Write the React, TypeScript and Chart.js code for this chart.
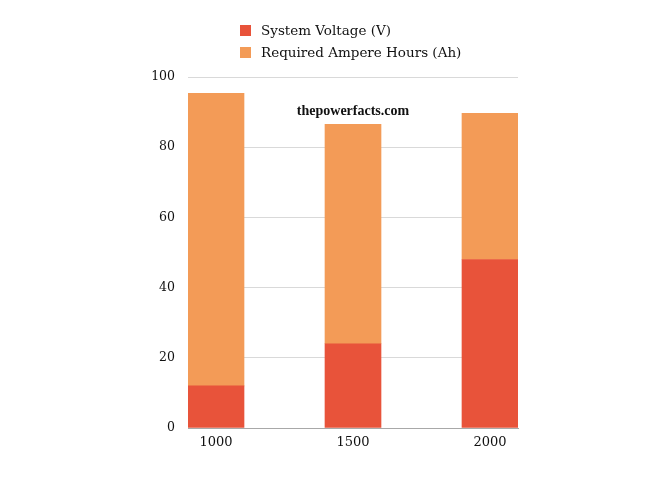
import React, { useEffect, useRef } from 'react';
import { Chart, registerables } from 'chart.js';

Chart.register(...registerables);

const categories = ['1000', '1500', '2000'];
const systemVoltage = [12, 24, 48];
const ampereHours = [83.33, 62.5, 41.67];
const yTicks = [0, 20, 40, 60, 80, 100];

const seriesNames = ['System Voltage (V)', 'Required Ampere Hours (Ah)'];
const seriesColors = ['#E8533A', '#F39B57'];
const watermark = 'thepowerfacts.com';

const SERIF = '"DejaVu Serif", serif';

const watermarkPlugin = {
  id: 'watermark',
  afterDatasetsDraw(chart: any) {
    const { ctx, scales } = chart;
    const x = scales.x.getPixelForValue(1);
    const y = scales.y.getPixelForValue(90.3);
    ctx.save();
    ctx.font = 'bold 14px "Liberation Serif", serif';
    ctx.fillStyle = '#111';
    ctx.textAlign = 'center';
    ctx.textBaseline = 'middle';
    ctx.fillText(watermark, x, y);
    ctx.restore();
  },
};

export default function App() {
  const canvasRef = useRef<HTMLCanvasElement>(null);

  useEffect(() => {
    if (!canvasRef.current) return;
    const half = 0.2044;
    const chart = new Chart(canvasRef.current, {
      type: 'bar',
      data: {
        datasets: [
          {
            label: seriesNames[0],
            data: systemVoltage.map((v, i) => ({ x: i, y: v })),
            backgroundColor: seriesColors[0],
            barThickness: 56,
          },
          {
            label: seriesNames[1],
            data: ampereHours.map((v, i) => ({ x: i, y: v })),
            backgroundColor: seriesColors[1],
            barThickness: 56,
          },
        ],
      },
      options: {
        animation: false,
        responsive: true,
        maintainAspectRatio: false,
        layout: { padding: { left: 0, right: 143, top: 69, bottom: 0 } },
        plugins: {
          legend: { display: false },
          tooltip: { enabled: false },
        },
        scales: {
          x: {
            type: 'linear',
            stacked: true,
            offset: false,
            min: -half,
            max: categories.length - 1 + half,
            afterBuildTicks: (axis: any) => {
              axis.ticks = categories.map((_, i) => ({ value: i }));
            },
            afterFit: (axis: any) => {
              axis.height = 41;
            },
            grid: { display: false, drawTicks: false, offset: false },
            border: { display: true, color: '#a8a8a8', width: 1 },
            ticks: {
              autoSkip: false,
              maxRotation: 0,
              padding: 7,
              color: '#111',
              font: { family: SERIF, size: 13 },
              callback: (v: any) => categories[Math.round(Number(v))] ?? '',
            },
          },
          y: {
            stacked: true,
            min: 0,
            max: 100,
            afterBuildTicks: (axis: any) => {
              axis.ticks = yTicks.map((v) => ({ value: v }));
            },
            afterFit: (axis: any) => {
              axis.width = 180;
            },
            grid: { color: '#d9d9d9', drawTicks: false, lineWidth: 1 },
            border: { display: false },
            ticks: {
              padding: 13,
              color: '#111',
              font: { family: SERIF, size: 12.5 },
            },
          },
        },
      },
      plugins: [watermarkPlugin],
    });
    return () => chart.destroy();
  }, []);

  return (
    <div style={{ position: 'relative', width: 653, height: 461 }}>
      <canvas ref={canvasRef} />
      <div
        style={{
          position: 'absolute',
          left: 232,
          top: 11,
          fontFamily: SERIF,
          fontSize: 13.5,
          color: '#111',
        }}
      >
        {seriesNames.map((name, i) => (
          <div
            key={name}
            style={{ display: 'flex', alignItems: 'center', height: 22 }}
          >
            <span
              style={{
                display: 'inline-block',
                width: 11,
                height: 11,
                background: seriesColors[i],
                marginRight: 10,
              }}
            />
            <span>{name}</span>
          </div>
        ))}
      </div>
    </div>
  );
}
